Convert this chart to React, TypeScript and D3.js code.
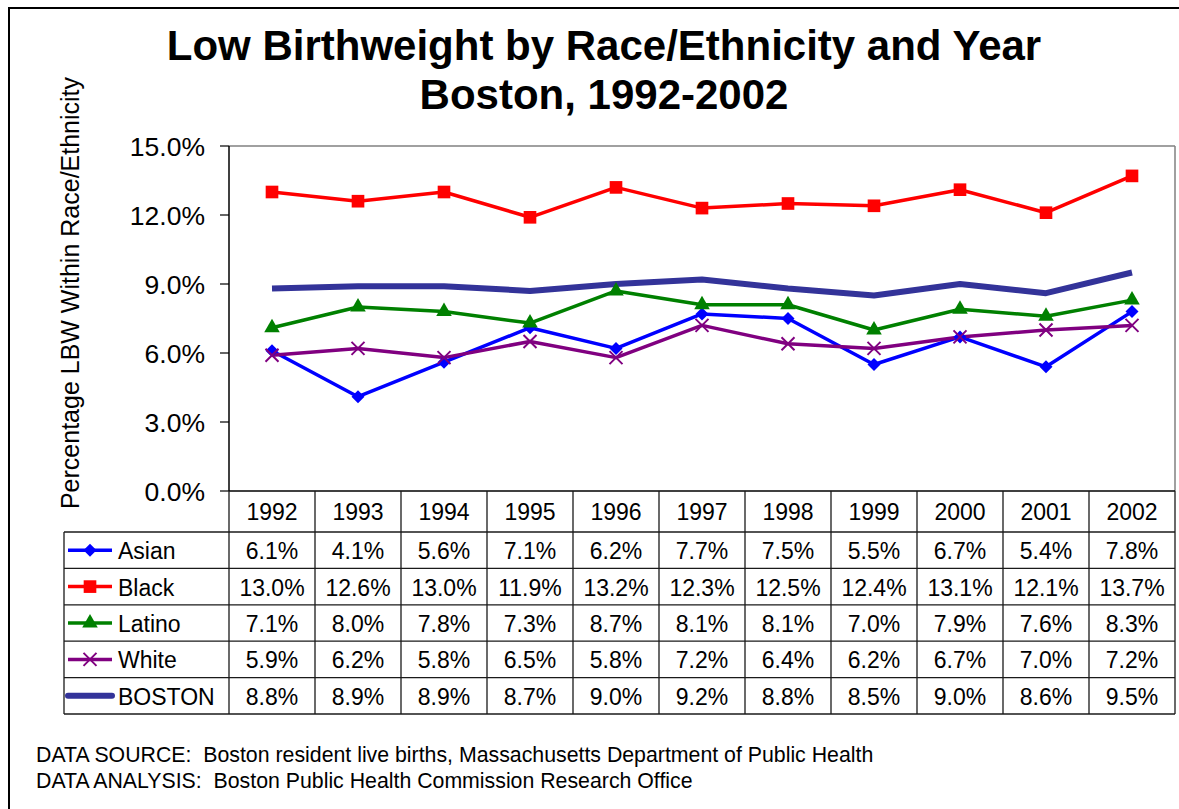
import React from "react";
import * as d3 from "d3";

const years = ["1992","1993","1994","1995","1996","1997","1998","1999","2000","2001","2002"];
const asian = [6.1, 4.1, 5.6, 7.1, 6.2, 7.7, 7.5, 5.5, 6.7, 5.4, 7.8];
const black = [13.0, 12.6, 13.0, 11.9, 13.2, 12.3, 12.5, 12.4, 13.1, 12.1, 13.7];
const latino = [7.1, 8.0, 7.8, 7.3, 8.7, 8.1, 8.1, 7.0, 7.9, 7.6, 8.3];
const white = [5.9, 6.2, 5.8, 6.5, 5.8, 7.2, 6.4, 6.2, 6.7, 7.0, 7.2];
const boston = [8.8, 8.9, 8.9, 8.7, 9.0, 9.2, 8.8, 8.5, 9.0, 8.6, 9.5];
const yTicks = [0, 3, 6, 9, 12, 15];
const titleLines = ["Low Birthweight by Race/Ethnicity and Year", "Boston, 1992-2002"];
const yTitle = "Percentage LBW Within Race/Ethnicity";
const notes = [
  "DATA SOURCE:  Boston resident live births, Massachusetts Department of Public Health",
  "DATA ANALYSIS:  Boston Public Health Commission Research Office",
];

const series = [
  { name: "Asian", values: asian, color: "#0000FF", width: 3.5, marker: "diamond" },
  { name: "Black", values: black, color: "#FF0000", width: 3.5, marker: "square" },
  { name: "Latino", values: latino, color: "#008000", width: 3.5, marker: "triangle" },
  { name: "White", values: white, color: "#800080", width: 3.5, marker: "x" },
  { name: "BOSTON", values: boston, color: "#333399", width: 6, marker: "none" },
];

const FONT = "'Liberation Sans', Arial, Helvetica, sans-serif";

function Marker({ type, x, y, color }: { type: string; x: number; y: number; color: string }) {
  if (type === "diamond") {
    const p = d3.symbol().type(d3.symbolSquare).size(85)();
    return <path d={p || ""} transform={`translate(${x},${y}) rotate(45)`} fill={color} />;
  }
  if (type === "square") {
    const p = d3.symbol().type(d3.symbolSquare).size(160)();
    return <path d={p || ""} transform={`translate(${x},${y})`} fill={color} />;
  }
  if (type === "triangle") {
    const p = d3.symbol().type(d3.symbolTriangle).size(105)();
    return <path d={p || ""} transform={`translate(${x},${y})`} fill={color} />;
  }
  if (type === "x") {
    const s = 6.5;
    return (
      <path
        d={`M${x - s},${y - s}L${x + s},${y + s}M${x - s},${y + s}L${x + s},${y - s}`}
        stroke={color}
        strokeWidth={2}
        fill="none"
      />
    );
  }
  return null;
}

export default function App() {
  const W = 1179, H = 809;
  const plotL = 229, plotR = 1175, plotT = 146, plotB = 491;
  const x = d3.scaleBand<string>().domain(years).range([plotL, plotR]);
  const y = d3.scaleLinear().domain([0, 15]).range([plotB, plotT]);
  const headerB = 532;
  const tableB = 714;
  const legendL = 64;
  const rowScale = d3.scaleBand<string>().domain(series.map((s) => s.name)).range([headerB, tableB]);
  const cx = (yr: string) => (x(yr) as number) + x.bandwidth() / 2;

  const line = d3
    .line<number>()
    .x((_, i) => cx(years[i]))
    .y((d) => y(d));

  const tableStroke = "#1a1a1a";

  return (
    <svg
      width={W}
      height={H}
      style={{ position: "absolute", left: 0, top: 0, background: "#fff" }}
      fontFamily={FONT}
    >
      <rect x={0} y={0} width={W} height={H} fill="#fff" />
      {/* outer frame */}
      <rect x={9} y={8} width={W + 20} height={H + 20} fill="none" stroke="#000" strokeWidth={2} />

      {/* title */}
      <text x={604} y={60} textAnchor="middle" fontSize={42} fontWeight="bold" fill="#000">
        {titleLines[0]}
      </text>
      <text x={604} y={109} textAnchor="middle" fontSize={42} fontWeight="bold" fill="#000">
        {titleLines[1]}
      </text>

      {/* y axis title */}
      <text
        transform={`translate(79,293) rotate(-90)`}
        textAnchor="middle"
        fontSize={25}
        fill="#000"
      >
        {yTitle}
      </text>

      {/* plot area border (top/right grey) */}
      <line x1={plotL} x2={plotR} y1={plotT} y2={plotT} stroke="#808080" strokeWidth={1.5} />
      <line x1={plotR} x2={plotR} y1={plotT} y2={plotB} stroke="#808080" strokeWidth={1.5} />

      {/* y axis */}
      <line x1={plotL} x2={plotL} y1={plotT} y2={plotB} stroke="#000" strokeWidth={1.5} />
      {yTicks.map((t) => (
        <g key={t}>
          <line x1={plotL - 9} x2={plotL} y1={y(t)} y2={y(t)} stroke="#000" strokeWidth={1.2} />
          <text x={205} y={y(t) + 9.5} textAnchor="end" fontSize={26.5} fill="#000">
            {t.toFixed(1)}%
          </text>
        </g>
      ))}

      {/* series lines */}
      {series.map((s) => (
        <path
          key={s.name}
          d={line(s.values) || ""}
          fill="none"
          stroke={s.color}
          strokeWidth={s.width}
          strokeLinejoin="round"
        />
      ))}
      {series.map((s) =>
        s.values.map((v, i) => (
          <Marker key={s.name + i} type={s.marker} x={cx(years[i])} y={y(v)} color={s.color} />
        ))
      )}

      {/* data table */}
      <line x1={plotL} x2={plotR} y1={plotB} y2={plotB} stroke="#000" strokeWidth={1.5} />
      {years.map((yr) => (
        <line
          key={"v" + yr}
          x1={x(yr) as number}
          x2={x(yr) as number}
          y1={plotB}
          y2={tableB}
          stroke={tableStroke}
          strokeWidth={1.3}
        />
      ))}
      <line x1={plotR} x2={plotR} y1={plotB} y2={tableB} stroke={tableStroke} strokeWidth={1.3} />
      <line x1={legendL} x2={legendL} y1={headerB} y2={tableB} stroke={tableStroke} strokeWidth={1.3} />
      {series.map((s) => (
        <line
          key={"h" + s.name}
          x1={legendL}
          x2={plotR}
          y1={rowScale(s.name) as number}
          y2={rowScale(s.name) as number}
          stroke={tableStroke}
          strokeWidth={1.3}
        />
      ))}
      <line x1={legendL} x2={plotR} y1={tableB} y2={tableB} stroke={tableStroke} strokeWidth={1.3} />

      {years.map((yr) => (
        <text key={"t" + yr} x={cx(yr)} y={(plotB + headerB) / 2 + 8.5} textAnchor="middle" fontSize={23} fill="#000">
          {yr}
        </text>
      ))}

      {series.map((s) => {
        const ry = (rowScale(s.name) as number) + rowScale.bandwidth() / 2;
        return (
          <g key={"r" + s.name}>
            <line x1={68} x2={112} y1={ry} y2={ry} stroke={s.color} strokeWidth={s.width} strokeLinecap={s.marker === "none" ? "round" : "butt"} />
            <Marker type={s.marker} x={90} y={ry} color={s.color} />
            <text x={118} y={ry + 9} fontSize={23} fill="#000">
              {s.name}
            </text>
            {s.values.map((v, i) => (
              <text key={i} x={cx(years[i])} y={ry + 9} textAnchor="middle" fontSize={23} fill="#000">
                {v.toFixed(1)}%
              </text>
            ))}
          </g>
        );
      })}

      {/* notes */}
      {notes.map((n, i) => (
        <text key={i} x={36} y={762 + i * 26} fontSize={21.3} fill="#000" style={{ whiteSpace: "pre" }}>
          {n}
        </text>
      ))}
    </svg>
  );
}
